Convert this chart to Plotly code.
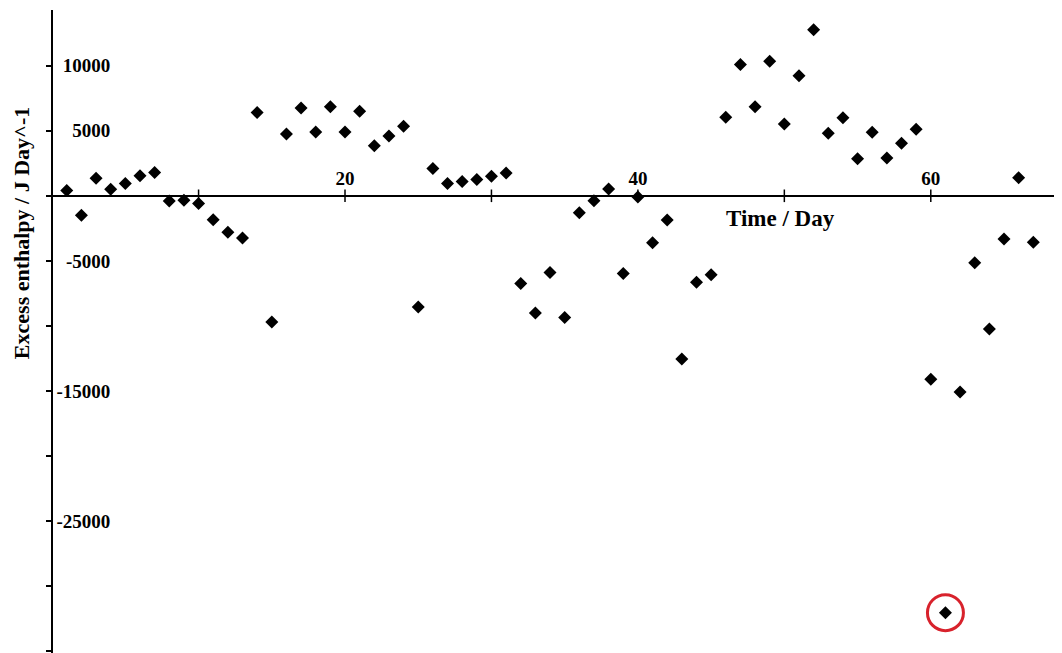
import plotly.graph_objects as go

# ---- data ----
days = list(range(1, 68))
excess_enthalpy = [
    400, -1500, 1350, 500, 950, 1550, 1800, -400, -350, -600,
    -1850, -2800, -3250, 6400, -9700, 4750, 6750, 4900, 6850, 4900,
    6500, 3850, 4600, 5350, -8550, 2100, 950, 1100, 1250, 1500,
    1750, -6750, -9000, -5900, -9350, -1300, -380, 520, -5970, -100,
    -3600, -1860, -12550, -6650, -6070, 6030, 10100, 6850, 10340, 5520,
    9230, 12770, 4800, 6000, 2850, 4880, 2900, 4040, 5110, -14100,
    -32040, -15080, -5140, -10240, -3320, 1390, -3570,
]
highlight_day = 61

x_tickvals = [10, 20, 30, 40, 50, 60]
x_ticktext = ["", "20", "", "40", "", "60"]
y_tickvals = [10000, 5000, 0, -5000, -10000, -15000, -20000, -25000, -30000, -35000]
y_ticktext = ["10000", "5000", "", "-5000", "", "-15000", "", "-25000", "", ""]

x_title = "Time / Day"
y_title = "Excess enthalpy / J Day^-1"

# ---- layout constants (page body has an 8px default margin) ----
BODY = 8
W, H = 1062 - BODY, 653 - BODY
ML, MR, MT, MB = 53 - BODY, 0, 10 - BODY, 0
x_range = [0.06, 68.96]
y_range = [-35140, 14280]

FONT = "Liberation Serif, Times New Roman, serif"

fig = go.Figure()
fig.add_trace(go.Scatter(
    x=days, y=excess_enthalpy, mode="markers",
    marker=dict(symbol="diamond", size=10, color="black"),
    showlegend=False, hoverinfo="x+y",
))
hi = days.index(highlight_day)
fig.add_trace(go.Scatter(
    x=[days[hi]], y=[excess_enthalpy[hi]], mode="markers",
    marker=dict(symbol="circle-open", size=36, color="#d8222c",
                line=dict(width=3, color="#d8222c")),
    showlegend=False, hoverinfo="skip",
))
# x-axis tick marks, crossing the zero line
fig.add_trace(go.Scatter(
    x=x_tickvals, y=[0] * len(x_tickvals), mode="markers",
    marker=dict(symbol="line-ns", size=9, line=dict(width=1.5, color="black")),
    showlegend=False, hoverinfo="skip",
))
# x-axis tick labels, above the zero line
fig.add_trace(go.Scatter(
    x=x_tickvals, y=[0] * len(x_tickvals), mode="markers+text",
    text=x_ticktext, textposition="top center",
    textfont=dict(family=FONT, size=19, color="black", weight="bold"),
    marker=dict(size=8, color="rgba(0,0,0,0)"),
    showlegend=False, hoverinfo="skip",
))

fig.update_layout(
    width=W, height=H,
    margin=dict(l=ML, r=MR, t=MT, b=MB, autoexpand=False),
    paper_bgcolor="white", plot_bgcolor="white",
    font=dict(family=FONT, color="black"),
    xaxis=dict(
        range=x_range, automargin=False,
        showline=False, showgrid=False, zeroline=False,
        showticklabels=False, ticks="",
    ),
    yaxis=dict(
        range=y_range, automargin=False,
        showline=True, linecolor="black", linewidth=2,
        showgrid=False,
        zeroline=True, zerolinecolor="black", zerolinewidth=2,
        tickvals=y_tickvals, ticktext=y_ticktext,
        ticks="outside", ticklen=5, tickwidth=1.5, tickcolor="black",
        ticklabelposition="outside", ticklabelstandoff=-68,
        tickfont=dict(family=FONT, size=19, color="black", weight="bold"),
    ),
    annotations=[
        dict(text=f"<b>{x_title}</b>", xref="paper", yref="paper",
             x=0.7215, y=0.6765, xanchor="center", yanchor="middle",
             showarrow=False, font=dict(family=FONT, size=23, color="black")),
        dict(text=f"<b>{y_title}</b>", xref="paper", yref="paper",
             x=-0.0317, y=0.653, xanchor="center", yanchor="middle",
             textangle=-90, showarrow=False,
             font=dict(family=FONT, size=22, color="black")),
    ],
)

fig.write_html("out.html")
